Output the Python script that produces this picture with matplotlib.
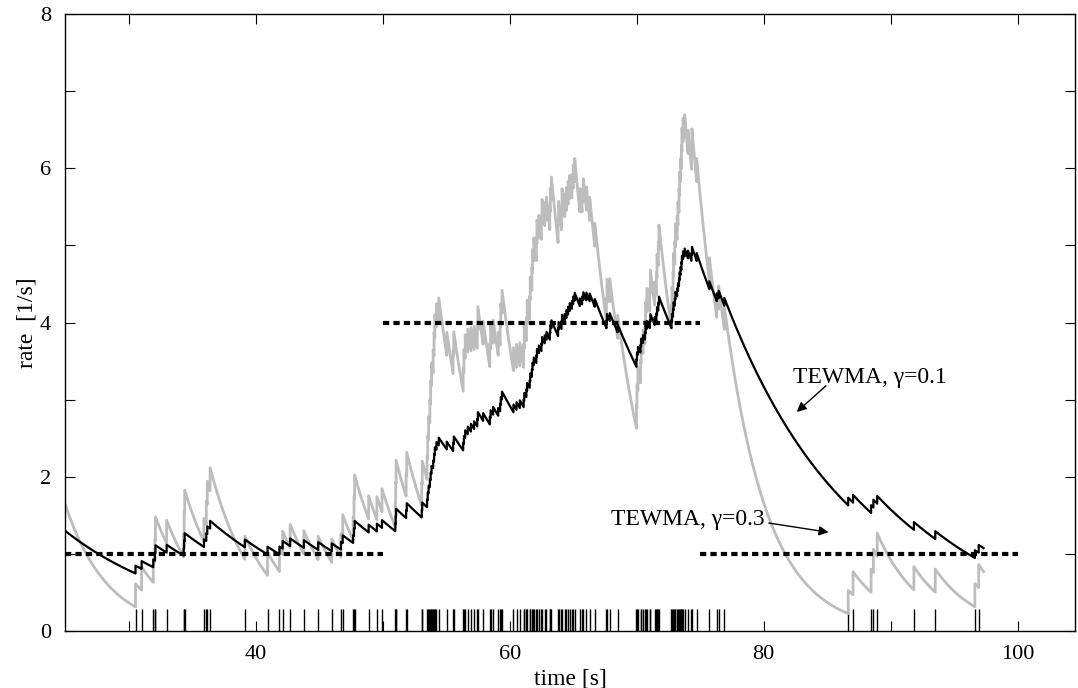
import numpy as np
import matplotlib
matplotlib.use("Agg")
import matplotlib.pyplot as plt

plt.rcParams['font.family'] = ['Liberation Serif', 'DejaVu Serif']

# spike times [s]
event_times = [
    30.55, 31.03, 31.95, 32.08, 32.12, 33.0, 34.34, 34.38, 34.42, 35.94,
    36.12, 36.2, 36.42, 39.16, 40.94, 41.88, 42.13, 42.72, 43.8, 44.93,
    46.0, 46.72, 46.86, 47.68, 47.75, 47.8, 48.9, 49.55,
    49.95, 51.0, 51.03, 51.06, 51.85, 51.9, 53.08, 53.12,
    53.5, 53.55, 53.62, 53.72, 53.78, 53.85, 53.98, 54.05, 54.11, 54.24,
    54.42, 55.05, 55.55, 55.6, 56.34, 56.4, 56.5, 56.7, 56.95, 57.2,
    57.45, 57.5, 57.91, 58.44, 58.5, 58.7, 59.1, 59.25, 59.3, 59.4,
    60.3, 60.54, 60.8, 61.1, 61.15, 61.32, 61.38, 61.58, 61.62, 61.75,
    61.8, 61.9, 62.1, 62.15, 62.3, 62.5, 62.55, 62.76, 62.9, 63.16,
    63.2, 63.29, 63.81, 63.85, 64.08, 64.12, 64.34, 64.47, 64.6, 64.73,
    64.9, 65.0, 65.12, 65.52, 65.7, 65.8, 66.04, 66.3,
    66.7, 67.62, 67.66, 67.88, 68.5,
    69.98, 70.02, 70.1, 70.3, 70.35, 70.5, 70.65, 70.7, 70.8, 71.03,
    71.08, 71.42, 71.55, 71.6, 71.7, 71.75,
    72.73, 72.78, 72.86, 72.9, 73.0, 73.05, 73.18, 73.25, 73.33, 73.38,
    73.45, 73.52, 73.56, 73.65, 73.78, 74.04, 74.31, 74.35, 74.72, 75.72,
    76.3, 76.45, 76.9,
    86.65, 87.03, 88.45, 88.63, 88.93, 91.82, 93.5, 96.62, 96.92,
]

# true rate, piecewise constant
rate_start = [25, 50, 75]
rate_end = [50, 75, 100]
rate_value = [1, 4, 1]

# estimator settings and their values at t = 25 s
gammas = [0.3, 0.1]
start_values = [1.65, 1.30]
t_first, t_last = 25.0, 97.3


def tewma(events, gamma, r0, t0, t1, step=0.01):
    # decays as exp(-gamma t) between spikes, jumps by gamma at each spike
    ts, rs = [], []
    r, t = r0, t0
    for te in list(events) + [t1]:
        seg = np.arange(t, te, step)
        ts.extend(seg)
        rs.extend(r * np.exp(-gamma * (seg - t)))
        r = r * np.exp(-gamma * (te - t))
        ts.append(te)
        rs.append(r)
        if te < t1:
            r += gamma
            ts.append(te)
            rs.append(r)
        t = te
    return np.array(ts), np.array(rs)


fig = plt.figure(figsize=(10.78, 6.88), dpi=100)
ax = fig.add_axes([65 / 1078, 57 / 688, 1010 / 1078, 617 / 688])

t03, r03 = tewma(event_times, gammas[0], start_values[0], t_first, t_last)
t01, r01 = tewma(event_times, gammas[1], start_values[1], t_first, t_last)
ax.plot(t03, r03, color='#bdbdbd', lw=2.0, zorder=2)
ax.plot(t01, r01, color='black', lw=1.6, zorder=3)

for a, b, v in zip(rate_start, rate_end, rate_value):
    ax.plot([a, b], [v, v], color='black', lw=3.0,
            linestyle=(0, (1.5, 1.0)), solid_capstyle='butt', zorder=4)

ax.vlines(event_times, 0, 0.285, color='black', lw=1.0, zorder=1)

ax.set_xlim(25, 104.5)
ax.set_ylim(0, 8)
ax.set_xticks(np.arange(30, 101, 10))
ax.set_xticklabels(['' if v % 20 else str(v) for v in range(30, 101, 10)])
ax.set_yticks(np.arange(0, 9, 1))
ax.set_yticklabels([str(v) if v % 2 == 0 else '' for v in range(0, 9)])
ax.tick_params(direction='in', length=7, width=0.8, labelsize=16,
               top=True, right=True, pad=10)
for s in ax.spines.values():
    s.set_linewidth(1.0)

ax.set_xlabel('time [s]', fontsize=17, labelpad=3)
ax.set_ylabel('rate  [1/s]', fontsize=17, labelpad=2)

ax.text(82.3, 3.29, 'TEWMA, γ=0.1', fontsize=17, ha='left', va='center')
ax.annotate('', xy=(82.6, 2.84), xytext=(84.9, 3.18),
            arrowprops=dict(arrowstyle='-|>', color='black', lw=1.0,
                            shrinkA=0, shrinkB=0, mutation_scale=14))
ax.text(68.0, 1.44, 'TEWMA, γ=0.3', fontsize=17, ha='left', va='center')
ax.annotate('', xy=(85.1, 1.28), xytext=(80.4, 1.40),
            arrowprops=dict(arrowstyle='-|>', color='black', lw=1.0,
                            shrinkA=0, shrinkB=0, mutation_scale=14))

fig.savefig('out.png', dpi=100)
